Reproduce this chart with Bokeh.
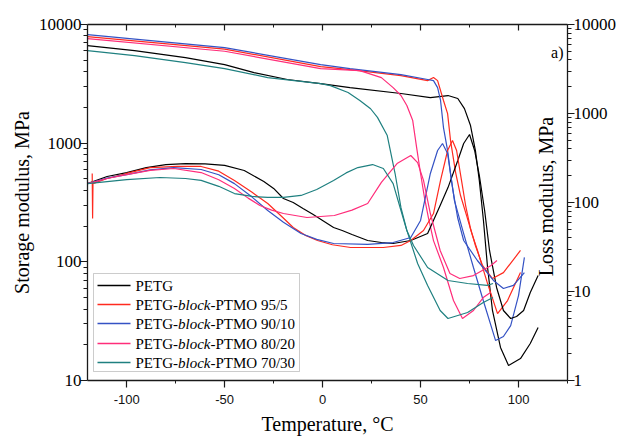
from bokeh.plotting import figure
from bokeh.models import (Range1d, LogScale, LogAxis, LinearAxis, FixedTicker,
                          CustomJSTickFormatter, Label, BoxAnnotation, Arrow,
                          SingleIntervalTicker)
from bokeh.embed import file_html
from bokeh.resources import INLINE
import math

# ---------------- data ----------------
series_names = ["PETG", "PETG-block-PTMO 95/5", "PETG-block-PTMO 90/10",
                "PETG-block-PTMO 80/20", "PETG-block-PTMO 70/30"]
colors = ["#000000", "#ff2a1f", "#3452c4", "#ff2d7a", "#1f8080"]

# PETG
petg_T_E = [-120, -96, -70, -50, -35, -18, -1, 14, 40, 55, 64, 69, 72.4, 75.5, 78, 80, 82.1, 84.2, 86.7, 90.8, 94.9, 101, 106, 110]
petg_E = [6640, 6030, 5260, 4590, 3930, 3440, 3180, 2940, 2620, 2420, 2520, 2380, 1955, 1407, 867, 484, 223, 89.6, 38.9, 19.0, 13.4, 15.3, 20.5, 28.0]
petg_T_L = [-120, -110, -100, -90, -80, -70, -60, -50, -40, -30, -25, -20, -15, -10, -5, 0, 5.6, 10, 15, 23, 30, 36, 45, 53.6, 60, 64, 69, 72, 75, 77.6, 80, 82.7, 85.2, 88.8, 92.3, 96, 99, 102.6, 106, 110]
petg_L = [163, 196, 217, 247, 267, 274, 271, 261, 229, 172, 144, 111, 100, 85.6, 73.6, 62.8, 52.4, 48.4, 43.7, 37.4, 35.5, 34.6, 37.4, 44.8, 92.5, 147, 296, 460, 581, 384, 201, 81.3, 28.9, 11.1, 6.12, 4.97, 5.24, 6.12, 9.75, 15.1]

# 95/5
p95_T_E = [-120, -50, -1, 14, 40, 53.6, 56.6, 58.7, 61.7, 63.8, 65.3, 67.9, 70.4, 73.5, 76, 79.1, 84.2, 89.3, 94.4, 101]
p95_E = [7910, 6210, 4420, 4170, 3710, 3365, 3570, 3365, 2290, 1775, 1052, 565, 362, 245, 177, 124, 65.6, 36.6, 47.2, 81.3]
p95_T_L = [-117.6, -117.4, -117.2, -110, -100, -88, -74, -62, -53, -45, -36, -28, -21, -15, -9, -2.6, 5, 14.3, 31, 40, 45, 51.5, 56.6, 60.2, 63.8, 66.3, 68.4, 70.9, 73, 75.5, 78, 81.6, 86.7, 92.3, 101]
p95_L = [212, 66, 163, 186, 212, 247, 254, 254, 225, 177, 130, 97.5, 70, 52.4, 43, 37.4, 33.5, 31.2, 31.2, 32.9, 37.4, 48.4, 75.2, 177, 384, 497, 384, 177, 92.5, 51.0, 32.9, 19.6, 14.0, 16.3, 28.9]

# 90/10
p90_T_E = [-120, -50, -1, 14, 40, 53.6, 56.6, 58.7, 60.2, 61.7, 63.8, 65.3, 67.3, 72, 77, 82, 88.3, 92.3, 96, 100, 103]
p90_E = [8220, 6380, 4590, 4250, 3785, 3440, 3365, 2940, 2290, 1352, 867, 555, 328, 173, 89.6, 47.2, 21.7, 23.5, 29.0, 52.0, 109]
p90_T_L = [-120, -110, -100, -88, -76, -62, -53, -45, -36, -28, -20, -11, -3, 5.6, 23, 36, 45, 50, 55, 58.7, 61.2, 63.8, 66.3, 68.9, 72, 79, 87.2, 92.3, 97.4, 103]
p90_L = [163, 188, 206, 233, 247, 235, 205, 163, 115, 81.3, 60, 44.9, 38.5, 34.6, 33.8, 35.5, 40.4, 62.8, 212, 384, 460, 355, 147, 67.8, 37.4, 22.3, 13.3, 10.8, 11.7, 16.3]

# 80/20
p80_T_E = [-120, -50, -1, 19, 30, 36, 40, 43, 46, 48, 50, 52, 54, 56.6, 61.7, 66.8, 71.4, 77, 82, 85.7]
p80_E = [7610, 5950, 4250, 4090, 3570, 2940, 2520, 2075, 1550, 918, 555, 348, 236, 151, 89.6, 47.2, 33.3, 38.9, 50.0, 55.1]
p80_T_L = [-120, -110, -100, -88, -76, -62, -53, -45, -38, -32, -26, -20, -8, 6, 15, 23, 30, 38, 45, 48.5, 51.5, 55, 60, 65, 70, 77, 86, 89]
p80_L = [163, 186, 206, 230, 241, 217, 180, 144, 112, 92.5, 82, 75.2, 67.8, 71.4, 82, 97.5, 168, 274, 337, 281, 177, 75.2, 28.9, 15.9, 14.0, 15.1, 19.6, 22.3]

# 70/30
p70_T_E = [-120, -96, -70, -50, -28, -1, 4, 13, 19, 24.5, 28, 33, 37, 40, 43, 48.5, 53.6, 60, 64, 74, 82, 87]
p70_E = [6030, 5470, 4780, 4250, 3570, 3180, 3055, 2670, 2290, 1950, 1650, 1160, 555, 286, 184, 96.8, 63.1, 38.9, 33.3, 37.4, 45.4, 50.0]
p70_T_L = [-120, -100, -83, -70, -62, -53, -45, -36, -28, -20, -11, -3, 5.6, 12, 18, 25.5, 31, 36, 40, 43, 46.4, 53.6, 64, 74, 84, 87]
p70_L = [163, 181, 191, 186, 177, 152, 126, 117, 114, 114, 120, 140, 177, 215, 247, 267, 241, 163, 81.3, 48.4, 32.9, 18.6, 13.3, 12.3, 11.7, 12.3]

storage = [(petg_T_E, petg_E), (p95_T_E, p95_E), (p90_T_E, p90_E), (p80_T_E, p80_E), (p70_T_E, p70_E)]
loss = [(petg_T_L, petg_L), (p95_T_L, p95_L), (p90_T_L, p90_L), (p80_T_L, p80_L), (p70_T_L, p70_L)]

x_ticks_interval = 50
left_major = [10, 100, 1000, 10000]
right_major = [1, 10, 100, 1000, 10000]

# ---------------- figure ----------------
SERIF = "Liberation Serif"
SANS = "Liberation Sans"
AX = "#1a1a1a"

p = figure(width=626, height=437, x_range=Range1d(-120, 125), y_range=Range1d(10, 10000),
           y_axis_type="log", output_backend="svg", toolbar_location=None,
           min_border_left=87, min_border_top=24, min_border_right=59, min_border_bottom=57)
p.extra_y_ranges = {"loss": Range1d(1, 10000)}
p.extra_y_scales = {"loss": LogScale()}
p.xgrid.visible = False
p.ygrid.visible = False
p.outline_line_color = None
p.background_fill_color = "white"
p.border_fill_color = "white"

def minors(majors):
    out = []
    for m in majors[:-1]:
        out += [m * k for k in range(2, 10)]
    return out

int_fmt = CustomJSTickFormatter(code="return Math.round(tick).toString();")
blank_fmt = CustomJSTickFormatter(code="return '';")

# left axis
ya = p.yaxis[0]
ya.ticker = FixedTicker(ticks=left_major, minor_ticks=minors(left_major))
ya.formatter = int_fmt
ya.major_tick_out = 7
ya.major_tick_in = 0
ya.minor_tick_out = 4
ya.minor_tick_in = 0
ya.major_label_standoff = -1
ya.major_label_text_font = SERIF
ya.major_label_text_font_size = "17px"
ya.major_label_text_color = "#000"
ya.axis_line_width = 1.3
ya.axis_line_color = AX
ya.major_tick_line_color = AX
ya.minor_tick_line_color = AX
ya.major_tick_line_width = 1.2
ya.axis_label = "Storage modulus, MPa"
ya.axis_label_text_font = SERIF
ya.axis_label_text_font_size = "20px"
ya.axis_label_text_font_style = "normal"
ya.axis_label_text_color = "#000"
ya.axis_label_standoff = 3

# bottom axis
xa = p.xaxis[0]
xa.ticker = SingleIntervalTicker(interval=x_ticks_interval, num_minor_ticks=2)
xa.formatter = int_fmt
xa.major_tick_out = 7
xa.major_tick_in = 0
xa.minor_tick_out = 3
xa.minor_tick_in = 0
xa.major_label_standoff = 7
xa.major_label_text_font = SANS
xa.major_label_text_font_size = "13px"
xa.major_label_text_color = "#111"
xa.axis_line_width = 1.3
xa.axis_line_color = AX
xa.major_tick_line_color = AX
xa.minor_tick_line_color = AX
xa.major_tick_line_width = 1.2
xa.axis_label = "Temperature, °C"
xa.axis_label_text_font = SERIF
xa.axis_label_text_font_size = "20px"
xa.axis_label_text_font_style = "normal"
xa.axis_label_text_color = "#000"
xa.axis_label_standoff = 6

# top axis (ticks only, pointing inward)
top = LinearAxis(ticker=SingleIntervalTicker(interval=x_ticks_interval, num_minor_ticks=2),
                 formatter=blank_fmt, major_label_standoff=0,
                 major_tick_in=6, major_tick_out=0, minor_tick_in=3, minor_tick_out=0,
                 axis_line_width=1.3, axis_line_color=AX, major_tick_line_color=AX,
                 minor_tick_line_color=AX, major_tick_line_width=1.2)
p.add_layout(top, "above")

# right axis (loss modulus)
ra = LogAxis(y_range_name="loss",
             ticker=FixedTicker(ticks=right_major, minor_ticks=minors(right_major)),
             formatter=int_fmt,
             major_tick_out=7, major_tick_in=0, minor_tick_out=4, minor_tick_in=0,
             major_label_standoff=-1, major_label_text_font=SERIF,
             major_label_text_font_size="17px", major_label_text_color="#000",
             axis_line_width=1.3, axis_line_color=AX, major_tick_line_color=AX,
             minor_tick_line_color=AX, major_tick_line_width=1.2)
p.add_layout(ra, "right")

# curves
for (t, e), c in zip(storage, colors):
    p.line(t, e, line_color=c, line_width=1.2)
for (t, l), c in zip(loss, colors):
    p.line(t, l, line_color=c, line_width=1.2, y_range_name="loss")

# right-hand axis title (inside the frame) and panel tag
p.add_layout(Label(x=458, y=184, x_units="screen", y_units="screen", text="Loss modulus, MPa",
                   angle=math.pi / 2, text_align="center", text_baseline="middle",
                   text_font=SERIF, text_font_size="20px", text_color="#000"))
p.add_layout(Label(x=476, y=328, x_units="screen", y_units="screen", text="a)",
                   text_align="right", text_baseline="middle",
                   text_font=SERIF, text_font_size="16px", text_color="#000"))

# legend (built from annotations so that "block" can be italic)
p.add_layout(BoxAnnotation(left=6, right=212, bottom=9, top=107,
                           left_units="screen", right_units="screen",
                           bottom_units="screen", top_units="screen",
                           fill_color="white", fill_alpha=1.0,
                           line_color="#555555", line_width=1))
row_y = [95, 76, 57, 37, 18]
for name, c, yy in zip(series_names, colors, row_y):
    p.add_layout(Arrow(start=None, end=None, x_start=10, y_start=yy, x_end=43, y_end=yy,
                       start_units="screen", end_units="screen",
                       line_color=c, line_width=1.3))
    if "block" in name:
        pre, rest = name.split("block")
        segs = [(pre, "normal", 0), ("block", "italic", 42.5), (rest, "normal", 75)]
    else:
        segs = [(name, "normal", 0)]
    for txt, style, dx in segs:
        p.add_layout(Label(x=48 + dx, y=yy, x_units="screen", y_units="screen", text=txt,
                           text_align="left", text_baseline="middle",
                           text_font=SERIF, text_font_size="15px",
                           text_font_style=style, text_color="#000"))

open("out.html", "w").write(file_html(p, INLINE))
